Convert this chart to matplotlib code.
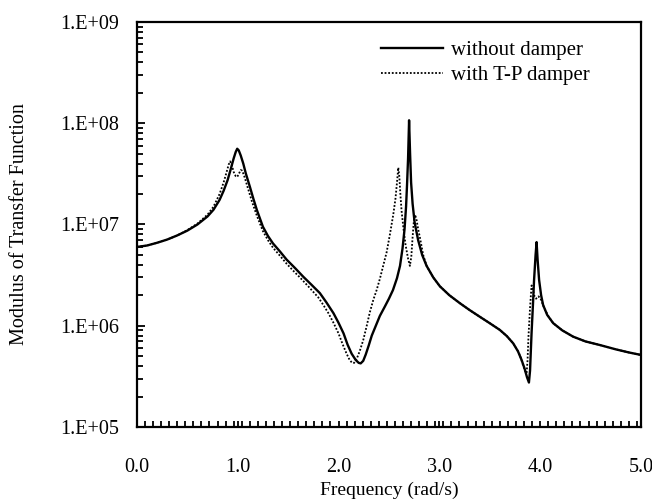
import numpy as np
import matplotlib.pyplot as plt
from matplotlib.ticker import FuncFormatter, MultipleLocator, LogLocator

# frequency (rad/s) and modulus
freq_plain = [0.0, 0.1, 0.2, 0.3, 0.4, 0.5, 0.6, 0.7, 0.76, 0.82, 0.86, 0.90,
              0.93, 0.96, 0.98, 0.995, 1.01, 1.03, 1.055, 1.08, 1.12, 1.155,
              1.19, 1.25, 1.30, 1.35, 1.42, 1.485, 1.57, 1.65, 1.73, 1.815,
              1.88, 1.95, 2.0, 2.05, 2.09, 2.13, 2.17, 2.20, 2.22, 2.245, 2.27,
              2.30, 2.33, 2.37, 2.41, 2.46, 2.50, 2.54, 2.58, 2.61, 2.635,
              2.655, 2.67, 2.68, 2.69, 2.70, 2.71, 2.72, 2.735, 2.755, 2.79,
              2.83, 2.874, 2.94, 3.006, 3.10, 3.204, 3.30, 3.40, 3.50, 3.60,
              3.67, 3.733, 3.78, 3.816, 3.845, 3.87, 3.889, 3.90, 3.915, 3.93,
              3.94, 3.955, 3.965, 3.975, 3.99, 4.01, 4.03, 4.07, 4.13, 4.22,
              4.328, 4.45, 4.593, 4.75, 4.88, 5.0]
mod_plain = [6.0e6, 6.2e6, 6.6e6, 7.1e6, 7.8e6, 8.7e6, 1.0e7, 1.2e7, 1.4e7,
             1.75e7, 2.15e7, 2.75e7, 3.5e7, 4.5e7, 5.2e7, 5.6e7, 5.4e7, 4.8e7,
             4.0e7, 3.2e7, 2.37e7, 1.8e7, 1.39e7, 9.5e6, 7.7e6, 6.5e6, 5.4e6,
             4.5e6, 3.7e6, 3.05e6, 2.55e6, 2.1e6, 1.7e6, 1.33e6, 1.07e6, 8.4e5,
             6.5e5, 5.3e5, 4.6e5, 4.3e5, 4.25e5, 4.5e5, 5.2e5, 6.4e5, 8.0e5,
             1.0e6, 1.25e6, 1.55e6, 1.85e6, 2.25e6, 2.95e6, 3.9e6, 5.8e6, 9.0e6,
             1.5e7, 2.5e7, 4.5e7, 1.07e8, 5.0e7, 2.6e7, 1.6e7, 1.05e7, 7.0e6,
             5.0e6, 3.9e6, 3.0e6, 2.45e6, 2.0e6, 1.67e6, 1.43e6, 1.23e6, 1.06e6,
             9.1e5, 7.9e5, 6.7e5, 5.6e5, 4.6e5, 3.8e5, 3.1e5, 2.75e5, 3.6e5,
             8.4e5, 1.7e6, 2.83e6, 5.0e6, 6.7e6, 4.5e6, 2.83e6, 2.0e6, 1.6e6,
             1.28e6, 1.06e6, 9.0e5, 7.8e5, 7.0e5, 6.45e5, 5.85e5, 5.45e5, 5.15e5]

freq_tp = [0.0, 0.1, 0.2, 0.3, 0.4, 0.5, 0.6, 0.7, 0.76, 0.82, 0.86, 0.89, 0.91,
           0.925, 0.94, 0.96, 0.98, 0.995, 1.01, 1.03, 1.045, 1.07, 1.10, 1.14,
           1.19, 1.25, 1.30, 1.35, 1.42, 1.485, 1.55, 1.617, 1.70, 1.80, 1.85,
           1.90, 1.95, 2.0, 2.04, 2.08, 2.11, 2.135, 2.155, 2.18, 2.21, 2.245,
           2.28, 2.31, 2.345, 2.378, 2.41, 2.44, 2.477, 2.51, 2.543, 2.565,
           2.58, 2.593, 2.603, 2.615, 2.626, 2.645, 2.665, 2.69, 2.708, 2.722,
           2.735, 2.748, 2.76, 2.775, 2.79, 2.808, 2.84, 2.874, 2.94, 3.006,
           3.10, 3.204, 3.30, 3.40, 3.50, 3.60, 3.67, 3.733, 3.78, 3.80, 3.83,
           3.85, 3.866, 3.875, 3.885, 3.90, 3.915, 3.925, 3.94, 3.96, 3.985,
           4.01, 4.04, 4.08, 4.13, 4.22, 4.328, 4.45, 4.593, 4.75, 4.88, 5.0]
mod_tp = [6.0e6, 6.2e6, 6.6e6, 7.1e6, 7.8e6, 8.8e6, 1.02e7, 1.25e7, 1.5e7,
          2.0e7, 2.6e7, 3.3e7, 3.9e7, 4.2e7, 3.9e7, 3.3e7, 3.0e7, 2.95e7,
          3.15e7, 3.45e7, 3.4e7, 2.9e7, 2.3e7, 1.7e7, 1.22e7, 8.6e6, 7.0e6,
          5.9e6, 4.9e6, 4.1e6, 3.5e6, 3.0e6, 2.45e6, 1.9e6, 1.6e6, 1.33e6,
          1.07e6, 8.4e5, 6.6e5, 5.3e5, 4.6e5, 4.3e5, 4.3e5, 4.7e5, 5.6e5,
          7.2e5, 1.0e6, 1.35e6, 1.8e6, 2.25e6, 2.9e6, 3.8e6, 5.3e6, 8.0e6,
          1.25e7, 1.8e7, 2.6e7, 3.65e7, 3.0e7, 1.9e7, 1.35e7, 9.0e6, 6.3e6,
          4.6e6, 3.9e6, 4.8e6, 7.5e6, 1.1e7, 1.25e7, 1.1e7, 9.0e6, 7.4e6,
          5.0e6, 3.9e6, 3.0e6, 2.45e6, 2.0e6, 1.67e6, 1.43e6, 1.23e6, 1.06e6,
          9.1e5, 7.9e5, 6.7e5, 5.6e5, 5.1e5, 4.1e5, 3.6e5, 3.4e5, 4.5e5, 8.0e5,
          1.5e6, 2.5e6, 2.4e6, 2.0e6, 1.85e6, 1.95e6, 1.8e6, 1.5e6, 1.25e6,
          1.06e6, 9.0e5, 7.8e5, 7.0e5, 6.45e5, 5.85e5, 5.45e5, 5.15e5]

plt.rcParams['font.family'] = ['Liberation Serif', 'DejaVu Serif']

fig = plt.figure(figsize=(6.52, 5), dpi=100)
ax = fig.add_axes([0.210, 0.146, 0.773, 0.810])

ax.semilogy(freq_plain, mod_plain, color='black', lw=1.7, label='without damper')
ax.semilogy(freq_tp, mod_tp, color='black', lw=1.3, ls=(0, (1, 1)),
            label='with T-P damper')

ax.set_xlim(0, 5)
ax.set_ylim(1e5, 1e9)
ax.xaxis.set_major_locator(MultipleLocator(1))
ax.xaxis.set_minor_locator(MultipleLocator(0.08))
ax.xaxis.set_major_formatter(FuncFormatter(lambda v, _: '%.1f' % v))
ax.yaxis.set_major_locator(LogLocator(base=10, numticks=10))
ax.yaxis.set_minor_locator(LogLocator(base=10, subs=np.arange(2, 10), numticks=20))
ax.yaxis.set_major_formatter(FuncFormatter(lambda v, _: '1.E+%02d' % round(np.log10(v))))

ax.tick_params(which='both', direction='in', labelsize=14.5, width=1.3)
ax.tick_params(which='major', length=6)
ax.tick_params(which='minor', length=4)
ax.tick_params(axis='x', which='major', length=4, pad=22)
ax.tick_params(axis='y', which='major', pad=13)
for s in ax.spines.values():
    s.set_linewidth(1.6)

ax.set_xlabel('Frequency (rad/s)', fontsize=14, labelpad=3.5)
ax.set_ylabel('Modulus of Transfer Function', fontsize=14.5, labelpad=22)

leg = ax.legend(loc='upper right', bbox_to_anchor=(0.935, 1.0), frameon=False,
                fontsize=15, handlelength=3.0, handletextpad=0.35,
                labelspacing=0.25)

fig.savefig('out.png', dpi=100)
